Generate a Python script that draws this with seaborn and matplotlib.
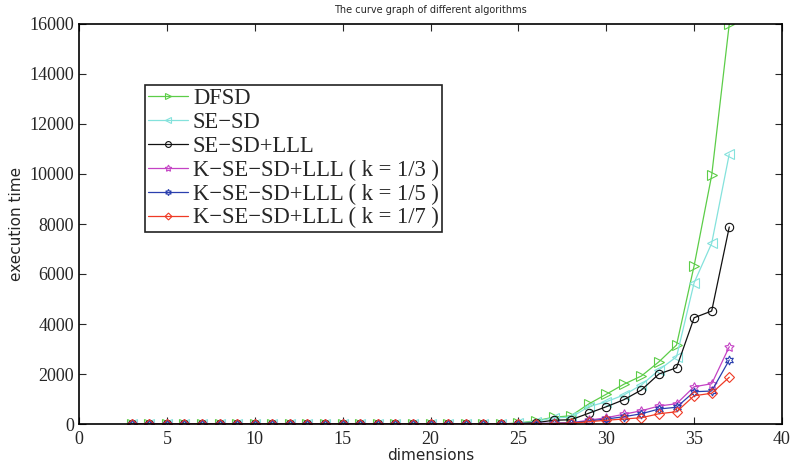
import matplotlib
matplotlib.use("Agg")
import matplotlib.pyplot as plt
import seaborn as sns
import numpy as np

dims = list(range(3, 38))

# values for dims 3..24 are ~0
zeros = [0] * 22  # dims 3..24
dfsd = zeros + [40, 130, 270, 330, 800, 1190, 1590, 1920, 2490, 3160, 6330, 9950, 16000]
sesd = zeros + [30, 100, 250, 270, 690, 890, 1160, 1560, 2160, 2690, 5650, 7230, 10800]
sesd_lll = zeros + [20, 50, 150, 170, 430, 690, 970, 1360, 2000, 2250, 4250, 4520, 7880]
k3 = zeros + [10, 20, 30, 50, 150, 250, 390, 530, 720, 810, 1490, 1610, 3090]
k5 = zeros + [10, 15, 25, 40, 120, 200, 290, 410, 600, 670, 1290, 1320, 2560]
k7 = zeros + [5, 10, 20, 30, 90, 150, 200, 250, 410, 490, 1130, 1230, 1870]

labels = ["DFSD", "SE\u2212SD", "SE\u2212SD+LLL",
          "K\u2212SE\u2212SD+LLL ( k = 1/3 )",
          "K\u2212SE\u2212SD+LLL ( k = 1/5 )",
          "K\u2212SE\u2212SD+LLL ( k = 1/7 )"]
series = [dfsd, sesd, sesd_lll, k3, k5, k7]
colors = ["#5ccd48", "#84e2dc", "#111111", "#c442c4", "#2a3fae", "#ef3a25"]
markers = [">", "<", "o", (5, 1, 0), (6, 1, 0), "D"]
msizes = [6.5, 6.5, 6, 7, 6.5, 5]

x_ticks = [0, 5, 10, 15, 20, 25, 30, 35, 40]
y_ticks = [0, 2000, 4000, 6000, 8000, 10000, 12000, 14000, 16000]

sns.set_style("ticks")
plt.rcParams["font.family"] = ["DejaVu Sans"]

fig = plt.figure(figsize=(7.93, 4.65), dpi=100)
ax = fig.add_axes([79 / 793, 41 / 465, 703 / 793, 400 / 465])

for vals, lab, col, mk, ms in zip(series, labels, colors, markers, msizes):
    sns.lineplot(x=dims, y=vals, ax=ax, color=col, marker=mk, markersize=ms,
                 markerfacecolor="none", markeredgecolor=col, markeredgewidth=0.8,
                 linewidth=0.9, label=lab)

ax.set_xlim(0, 40)
ax.set_ylim(0, 16000)
ax.set_xticks(x_ticks)
ax.set_yticks(y_ticks)
ax.set_xticklabels([str(t) for t in x_ticks], family="Liberation Serif", fontsize=13)
ax.set_yticklabels([str(t) for t in y_ticks], family="Liberation Serif", fontsize=13)
ax.tick_params(axis="x", pad=5)
ax.tick_params(direction="in", top=True, right=True, length=5, width=0.8)
for s in ax.spines.values():
    s.set_visible(True)
    s.set_linewidth(1.2)
    s.set_color("black")

ax.set_xlabel("dimensions", fontsize=11, labelpad=0)
ax.set_ylabel("execution time", fontsize=11, labelpad=4)
ax.set_title("The curve graph of different algorithms", fontsize=7, pad=8)

leg = ax.legend(loc="upper left", bbox_to_anchor=(66 / 703, 339 / 400), borderaxespad=0,
                prop={"family": "Liberation Serif", "size": 16.3},
                frameon=True, fancybox=False, framealpha=1, edgecolor="#222222",
                handlelength=1.77, handletextpad=0.2, labelspacing=0.12,
                borderpad=0.15, markerscale=0.7)
leg.get_frame().set_linewidth(1.2)

fig.savefig("out.png", dpi=100)
